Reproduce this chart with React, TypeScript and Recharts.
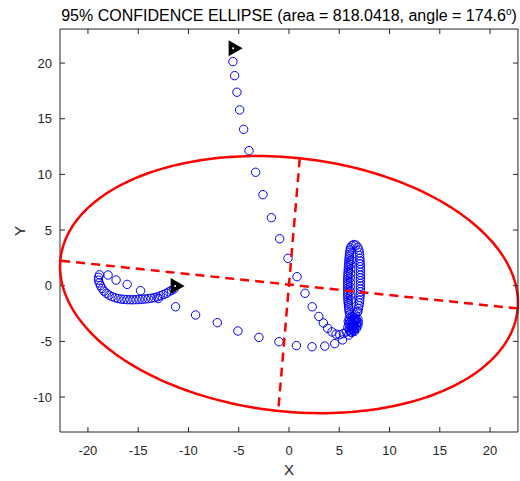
import React from 'react';
import { ScatterChart, Scatter, XAxis, YAxis } from 'recharts';

type Pt = [number, number];

const xTicks = [-20, -15, -10, -5, 0, 5, 10, 15, 20];
const yTicks = [-10, -5, 0, 5, 10, 15, 20];
const xDomain: [number, number] = [-22.78, 22.78];
const yDomain: [number, number] = [-13.14, 23.06];

const ellipseCenter: Pt = [0, 0.1];
const semiMajor = 22.85;
const semiMinor = 11.396;
const ellipseAngle = 174.6;
const ellipseArea = 818.0418;

// black triangles: start of each path
const startMarkers: Pt[] = [
  [-5.41, 21.33],
  [-11.18, -0.03],
];

// path coming down from the top marker
const descentPath: Pt[] = [
  [-5.58, 20.13], [-5.41, 18.87], [-5.18, 17.38], [-4.91, 15.79], [-4.51, 14.05],
  [-3.98, 12.13], [-3.32, 10.19], [-2.59, 8.18], [-1.75, 6.11], [-0.93, 4.22],
  [-0.1, 2.46], [0.8, 0.81], [1.59, -0.68], [2.31, -1.89], [2.97, -2.76],
  [3.42, -3.35], [3.84, -3.83], [4.27, -4.15], [4.68, -4.35], [5.05, -4.4],
  [5.4, -4.3], [5.7, -4.15],
];

// dense curl on the left, starting at the second marker
const leftCurl: Pt[] = [
  [-11.45, -0.3], [-11.7, -0.42], [-11.95, -0.55], [-12.2, -0.68], [-12.5, -0.8],
  [-12.8, -0.9], [-13.1, -1.0], [-13.4, -1.07], [-13.7, -1.12], [-14.0, -1.16],
  [-14.3, -1.19], [-14.6, -1.22], [-14.9, -1.24], [-15.2, -1.25], [-15.5, -1.26],
  [-15.8, -1.26], [-16.1, -1.25], [-16.4, -1.23], [-16.7, -1.2], [-17.0, -1.15],
  [-17.3, -1.08], [-17.6, -0.98], [-17.9, -0.85], [-18.15, -0.68], [-18.4, -0.48],
  [-18.6, -0.25], [-18.75, 0.0], [-18.88, 0.25], [-18.95, 0.5], [-18.95, 0.75],
  [-18.85, 0.98],
];

// sparse sweep back to the right along the bottom
const returnSweep: Pt[] = [
  [-18.0, 0.96], [-17.2, 0.51], [-16.1, 0.12], [-14.77, -0.45], [-13.0, -1.15],
  [-11.28, -1.89], [-9.29, -2.63], [-7.13, -3.32], [-5.08, -4.07], [-2.99, -4.64],
  [-1.0, -5.03], [0.74, -5.38], [2.29, -5.48], [3.56, -5.42], [4.55, -5.2],
  [5.32, -4.87], [5.95, -4.43],
];

// blob where both paths settle
const settleBlob: Pt[] = [
  [6.1, -4.15], [6.35, -4.0], [6.55, -3.8], [6.7, -3.55], [6.75, -3.3],
  [6.7, -3.05], [6.55, -2.85], [6.35, -2.75], [6.15, -2.8], [6.0, -2.95],
  [5.9, -3.2], [5.95, -3.45], [6.1, -3.65], [6.3, -3.7], [6.5, -3.55],
  [6.55, -3.3], [6.45, -3.1], [6.25, -3.05], [6.15, -3.25], [6.3, -3.4],
  [6.2, -3.9], [6.45, -3.95], [6.6, -2.6], [6.8, -2.4], [5.85, -3.75],
  [6.0, -4.0], [6.25, -4.2], [6.5, -4.1], [6.7, -3.85], [6.85, -3.6],
  [6.9, -3.3], [6.85, -3.0], [6.05, -3.3], [6.4, -3.55], [6.6, -3.2],
];

// hook: left arm up, over the top, right arm down
const hookLeftArm: Pt[] = [
  [6.05, -2.6], [6.0, -2.4], [5.97, -2.2], [5.95, -2.0], [5.93, -1.8],
  [5.9, -1.6], [5.88, -1.4], [5.87, -1.2], [5.86, -1.0], [5.85, -0.8],
  [5.85, -0.6], [5.85, -0.4], [5.85, -0.2], [5.85, 0.0], [5.85, 0.2],
  [5.85, 0.4], [5.85, 0.6], [5.86, 0.8], [5.87, 1.0], [5.88, 1.2],
  [5.9, 1.4], [5.91, 1.6], [5.93, 1.8], [5.95, 2.0], [5.97, 2.2],
  [5.98, 2.4], [6.0, 2.6], [6.02, 2.8], [6.05, 3.0], [6.08, 3.2], [6.12, 3.4],
  [6.15, -1.3], [6.12, -0.9], [6.1, -0.5], [6.1, -0.1], [6.1, 0.3],
  [6.1, 0.7], [6.12, 1.1], [6.14, 1.5], [6.16, 1.9], [6.18, 2.3],
];
const hookTop: Pt[] = [
  [6.25, 3.6], [6.45, 3.7], [6.65, 3.65], [6.85, 3.45], [6.95, 3.2],
];
const hookRightArm: Pt[] = [
  [7.0, 2.95], [7.03, 2.7], [7.05, 2.45], [7.07, 2.2], [7.08, 1.95],
  [7.1, 1.7], [7.1, 1.45], [7.1, 1.2], [7.1, 0.95], [7.1, 0.7],
  [7.1, 0.45], [7.1, 0.2], [7.1, -0.05], [7.1, -0.3], [7.1, -0.55],
  [7.08, -0.8], [7.06, -1.05], [7.03, -1.3], [7.0, -1.55], [6.96, -1.8],
  [6.9, -2.05], [6.85, -2.3],
];

const toRows = (pts: Pt[]) => pts.map(([x, y]) => ({ x, y }));

const circleRows = toRows([
  ...descentPath,
  ...leftCurl,
  ...returnSweep,
  ...settleBlob,
  ...hookLeftArm,
  ...hookTop,
  ...hookRightArm,
]);
const markerRows = toRows(startMarkers);

const rad = (ellipseAngle * Math.PI) / 180;
const [ecx, ecy] = ellipseCenter;
const ellipseRows = Array.from({ length: 241 }, (_, i) => {
  const t = (i / 240) * 2 * Math.PI;
  const u = semiMajor * Math.cos(t);
  const v = semiMinor * Math.sin(t);
  return {
    x: ecx + u * Math.cos(rad) - v * Math.sin(rad),
    y: ecy + u * Math.sin(rad) + v * Math.cos(rad),
  };
});
const majorRows = [-1, 1].map((s) => ({
  x: ecx + s * semiMajor * Math.cos(rad),
  y: ecy + s * semiMajor * Math.sin(rad),
}));
const minorRows = [-1, 1].map((s) => ({
  x: ecx - s * semiMinor * Math.sin(rad),
  y: ecy + s * semiMinor * Math.cos(rad),
}));

// top / right edges of the box, a hair inside the domain
const edge = 0.005;
const yTopEdge = yDomain[1] - edge;
const xRightEdge = xDomain[1] - edge;
const frameRows = [
  { x: xDomain[0], y: yTopEdge },
  { x: xRightEdge, y: yTopEdge },
  { x: xRightEdge, y: yDomain[0] },
];
const topTickRows = xTicks.map((t) => ({ x: t, y: yTopEdge }));
const rightTickRows = yTicks.map((t) => ({ x: xRightEdge, y: t }));

const FONT = '"Liberation Sans", Arial, Helvetica, sans-serif';
const AXIS = '#262626';
const tickStyle = { fontSize: 13, fill: AXIS, fontFamily: FONT };

const OpenCircle = (props: any) => (
  <circle cx={props.cx} cy={props.cy} r={4.2} fill="none" stroke="#0000ff" strokeWidth={1} />
);

const StartMarker = (props: any) => {
  const { cx, cy } = props;
  return (
    <g>
      <polygon points={`${cx - 6},${cy - 8} ${cx + 8},${cy} ${cx - 6},${cy + 8}`} fill="#000" />
      <circle cx={cx - 1.5} cy={cy} r={1} fill="#fff" />
    </g>
  );
};

const TopTick = (props: any) => (
  <line x1={props.cx} x2={props.cx} y1={props.cy} y2={props.cy + 5} stroke={AXIS} strokeWidth={1} />
);
const RightTick = (props: any) => (
  <line x1={props.cx} x2={props.cx - 5} y1={props.cy} y2={props.cy} stroke={AXIS} strokeWidth={1} />
);

const NoDot = () => <g />;

export default function App() {
  return (
    <div style={{ position: 'absolute', left: 0, top: 0, width: 520, height: 481, background: '#fff' }}>
      <div
        style={{
          position: 'absolute',
          left: 40,
          width: 498,
          top: 7,
          textAlign: 'center',
          fontFamily: FONT,
          fontSize: 16,
          lineHeight: '18px',
          color: '#000',
          whiteSpace: 'nowrap',
        }}
      >
        95% CONFIDENCE ELLIPSE (area = {ellipseArea.toFixed(4)}, angle = {ellipseAngle.toFixed(1)}
        <sup style={{ fontSize: 10, lineHeight: 0 }}>o</sup>)
      </div>
      <ScatterChart width={520} height={481} margin={{ top: 29, right: 2, bottom: 19, left: 20 }}>
        <XAxis
          type="number"
          dataKey="x"
          domain={xDomain}
          ticks={xTicks}
          tickSize={-5}
          tickMargin={19}
          tick={tickStyle}
          stroke={AXIS}
          height={30}
          interval={0}
        />
        <YAxis
          type="number"
          dataKey="y"
          domain={yDomain}
          ticks={yTicks}
          tickSize={-5}
          tickMargin={13}
          tick={tickStyle}
          stroke={AXIS}
          width={40}
          interval={0}
        />
        <Scatter data={circleRows} shape={OpenCircle} isAnimationActive={false} />
        <Scatter data={markerRows} shape={StartMarker} isAnimationActive={false} />
        <Scatter
          data={ellipseRows}
          shape={NoDot}
          fill="#ff0000"
          line={{ stroke: '#ff0000', strokeWidth: 2.5 }}
          isAnimationActive={false}
        />
        <Scatter
          data={majorRows}
          shape={NoDot}
          fill="#ff0000"
          line={{ stroke: '#ff0000', strokeWidth: 2.5, strokeDasharray: '9 6' }}
          isAnimationActive={false}
        />
        <Scatter
          data={minorRows}
          shape={NoDot}
          fill="#ff0000"
          line={{ stroke: '#ff0000', strokeWidth: 2.5, strokeDasharray: '9 6' }}
          isAnimationActive={false}
        />
        <Scatter
          data={frameRows}
          shape={NoDot}
          fill={AXIS}
          line={{ stroke: AXIS, strokeWidth: 1 }}
          isAnimationActive={false}
        />
        <Scatter data={topTickRows} shape={TopTick} isAnimationActive={false} />
        <Scatter data={rightTickRows} shape={RightTick} isAnimationActive={false} />
      </ScatterChart>
      <div
        style={{
          position: 'absolute',
          left: 269,
          width: 40,
          top: 461,
          textAlign: 'center',
          fontFamily: FONT,
          fontSize: 15,
          lineHeight: '18px',
          color: AXIS,
        }}
      >
        X
      </div>
      <div
        style={{
          position: 'absolute',
          left: 0,
          width: 40,
          top: 222,
          textAlign: 'center',
          fontFamily: FONT,
          fontSize: 15,
          lineHeight: '18px',
          color: AXIS,
          transform: 'rotate(-90deg)',
        }}
      >
        Y
      </div>
    </div>
  );
}
